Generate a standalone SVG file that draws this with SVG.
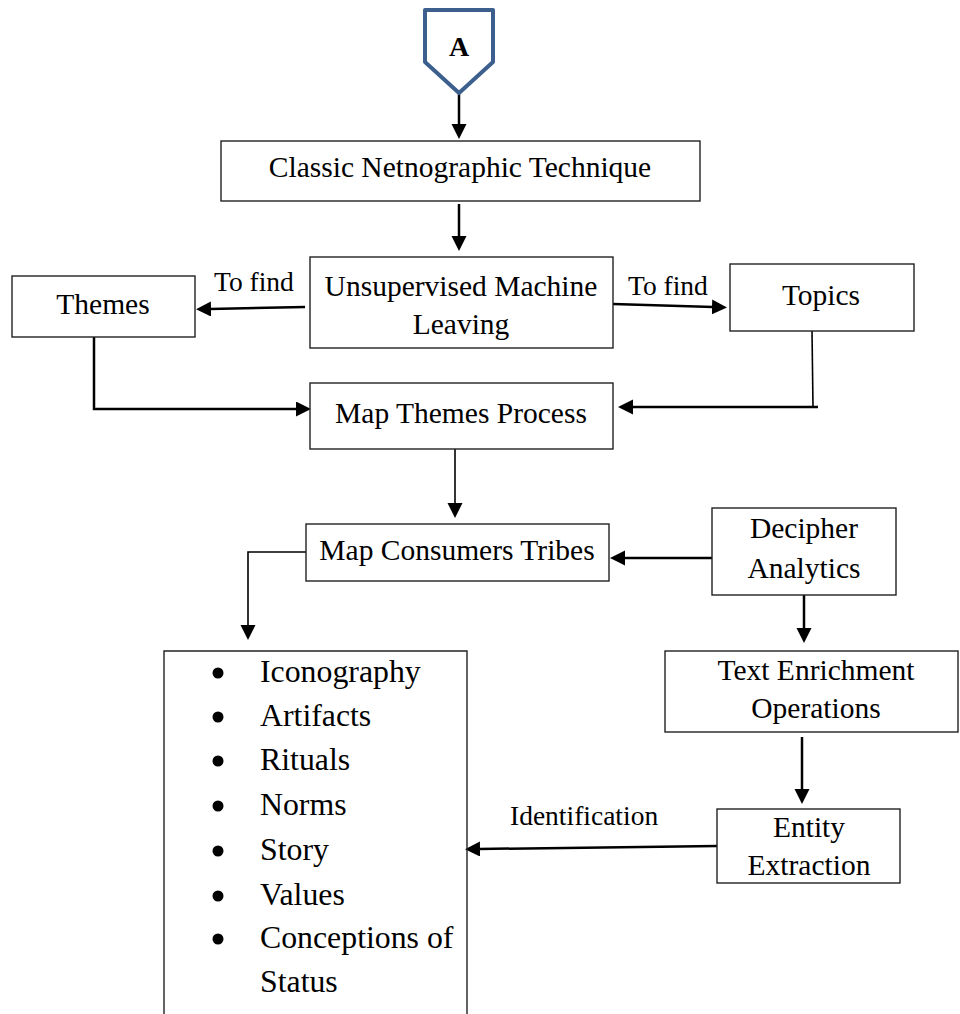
<svg xmlns="http://www.w3.org/2000/svg" width="960" height="1014" viewBox="0 0 960 1014">
<defs>
<marker id="ah" markerUnits="userSpaceOnUse" markerWidth="16" markerHeight="16" refX="1" refY="7.5" orient="auto">
<path d="M0,0 L15,7.5 L0,15 Z" fill="#000"/>
</marker>
<style>
.box{fill:#fff;stroke:#222;stroke-width:1.4}
.t{font-family:"Liberation Serif","Times New Roman",serif;font-size:29.5px;fill:#000;text-anchor:middle}
.lbl{font-family:"Liberation Serif","Times New Roman",serif;font-size:27.5px;fill:#000}
.li{font-family:"Liberation Serif","Times New Roman",serif;font-size:31.8px;fill:#000}
.c{fill:none;stroke:#000;stroke-width:2.5}
.thin{fill:none;stroke:#000;stroke-width:1.6}
</style>
</defs>
<rect width="960" height="1014" fill="#fff"/>
<g id="connectors">
<line class="c" x1="459" y1="93" x2="459" y2="125" marker-end="url(#ah)"/>
<line class="c" x1="459" y1="204" x2="459" y2="237" marker-end="url(#ah)"/>
<line class="c" x1="305" y1="307" x2="210" y2="309" marker-end="url(#ah)"/>
<line class="c" x1="613" y1="304" x2="713" y2="307" marker-end="url(#ah)"/>
<polyline class="c" points="94,337 94,409 297,409" marker-end="url(#ah)"/>
<polyline class="thin" points="812,331 813,407"/>
<line class="c" x1="818" y1="407" x2="632" y2="407" marker-end="url(#ah)"/>
<line class="thin" x1="455" y1="449" x2="455" y2="504" marker-end="url(#ah)"/>
<polyline class="thin" points="306,552 248,552 248,626" marker-end="url(#ah)"/>
<line class="c" x1="712" y1="558" x2="624" y2="558" marker-end="url(#ah)"/>
<line class="c" x1="804" y1="595" x2="804" y2="629" marker-end="url(#ah)"/>
<line class="c" x1="802" y1="737" x2="802" y2="790" marker-end="url(#ah)"/>
<line class="c" x1="717" y1="846" x2="479" y2="849" marker-end="url(#ah)"/>
<text class="lbl" x="214" y="291">To find</text>
<text class="lbl" x="628" y="295">To find</text>
<text class="lbl" x="510" y="825" font-size="29.5">Identification</text>
</g>
<g id="node-A">
<polygon points="425,10 493,10 493,62 459,93 425,62" fill="#fff" stroke="#3d5f8e" stroke-width="4" stroke-linejoin="round"/>
<text x="459" y="56" text-anchor="middle" font-family="Liberation Serif, Times New Roman, serif" font-size="28" font-weight="bold">A</text>
</g>
<g id="node-classic">
<rect class="box" x="221" y="141" width="479" height="60"/>
<text class="t" x="460" y="177">Classic Netnographic Technique</text>
</g>
<g id="node-unsupervised">
<rect class="box" x="310" y="257" width="303" height="91"/>
<text class="t" x="461" y="296">Unsupervised Machine</text>
<text class="t" x="461" y="334">Leaving</text>
</g>
<g id="node-themes">
<rect class="box" x="12" y="276" width="183" height="61"/>
<text class="t" x="103" y="314">Themes</text>
</g>
<g id="node-topics">
<rect class="box" x="730" y="264" width="184" height="67"/>
<text class="t" x="821" y="305">Topics</text>
</g>
<g id="node-mapthemes">
<rect class="box" x="310" y="383" width="303" height="66"/>
<text class="t" x="461" y="423">Map Themes Process</text>
</g>
<g id="node-mapconsumers">
<rect class="box" x="306" y="524" width="303" height="57"/>
<text class="t" x="457" y="560">Map Consumers Tribes</text>
</g>
<g id="node-decipher">
<rect class="box" x="712" y="508" width="184" height="87"/>
<text class="t" x="804" y="538">Decipher</text>
<text class="t" x="804" y="578">Analytics</text>
</g>
<g id="node-textenrichment">
<rect class="box" x="665" y="651" width="293" height="81"/>
<text class="t" x="816" y="680">Text Enrichment</text>
<text class="t" x="816" y="718">Operations</text>
</g>
<g id="node-entity">
<rect class="box" x="717" y="809" width="183" height="74"/>
<text class="t" x="809" y="837">Entity</text>
<text class="t" x="809" y="875">Extraction</text>
</g>
<g id="node-list">
<path d="M164,1016 V651 H467 V1016" fill="none" stroke="#222" stroke-width="1.4"/>
<g fill="#000">
<circle cx="218" cy="673" r="5.5"/>
<circle cx="218" cy="717" r="5.5"/>
<circle cx="218" cy="761" r="5.5"/>
<circle cx="218" cy="806" r="5.5"/>
<circle cx="218" cy="851" r="5.5"/>
<circle cx="218" cy="896" r="5.5"/>
<circle cx="218" cy="939" r="5.5"/>
</g>
<text class="li" x="260" y="682">Iconography</text>
<text class="li" x="260" y="726">Artifacts</text>
<text class="li" x="260" y="770">Rituals</text>
<text class="li" x="260" y="815">Norms</text>
<text class="li" x="260" y="860">Story</text>
<text class="li" x="260" y="905">Values</text>
<text class="li" x="260" y="948">Conceptions of</text>
<text class="li" x="260" y="992">Status</text>
</g>
</svg>
